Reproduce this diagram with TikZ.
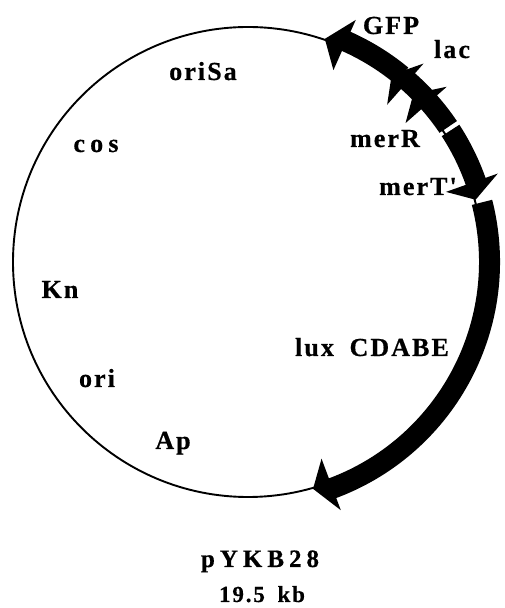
\documentclass[tikz,border=0pt]{standalone}
\usepackage{fontspec}
\setmainfont{Liberation Serif}
\newfontfamily\mapfont{Liberation Serif}[LetterSpace=8,FakeBold=0.6]
\newfontfamily\widefont{Liberation Serif}[LetterSpace=20,FakeBold=0.6]
\newfontfamily\titlefont{Liberation Serif}[LetterSpace=20,FakeBold=0.6]
\usetikzlibrary{positioning}

\begin{document}
\begin{tikzpicture}[
  x=1pt,y=1pt,
  backbone/.style={draw,line width=1.9pt},
  gene/.style={fill=black},
  lbl/.style={anchor=base,inner sep=0pt,font=\mapfont\bfseries\fontsize{26}{26}\selectfont},
  spaced/.style={lbl,font=\widefont\bfseries\fontsize{26}{26}\selectfont},
  title/.style={lbl,font=\titlefont\bfseries\fontsize{25}{25}\selectfont},
]
  \useasboundingbox (0,0) rectangle (504,608);
  \coordinate (c) at (248,346);

  % Plasmid backbone
  \draw[backbone] (c) circle[radius=235];

  % Genes (start / head base / tip angle)
  \begin{scope}[shift={(c)}]
    \foreach \from/\back/\tip in {34/41.4/45.5, 43/48.5/52.5, 50.5/66/71, 33/19.5/15.3, 14.3/-69.5/-74}
      \fill[gene] (\from:231) arc[start angle=\from,end angle=\back,radius=231] -- (\back:210)
        -- (\tip:236) -- (\back:265) -- (\back:252)
        arc[start angle=\back,end angle=\from,radius=252] -- cycle;
  \end{scope}

  % Labels
  \node[lbl] (gfp)   at (391,574) {GFP};
  \node[lbl] (lac)   at (452,550) {lac};
  \node[lbl] (merr)  at (385,461) {merR};
  \node[lbl] (mert)  at (418,413) {merT'};
  \node[lbl] (lux)   at (372,252) {lux\hspace{0.6em}CDABE};
  \node[lbl] (orisa) at (203,528) {oriSa};
  \node[spaced] (cos) at (96,456) {cos};
  \node[lbl] (kn)    at (60,310) {Kn};
  \node[lbl] (ori)   at (97,221) {ori};
  \node[lbl] (ap)    at (173,159) {Ap};

  % Name and size
  \node[title] (name) at (260,41) {pYKB28};
  \node[lbl,font=\mapfont\bfseries\fontsize{23}{23}\selectfont] (size) at (262,6) {19.5\hspace{0.55em}kb};
\end{tikzpicture}
\end{document}
